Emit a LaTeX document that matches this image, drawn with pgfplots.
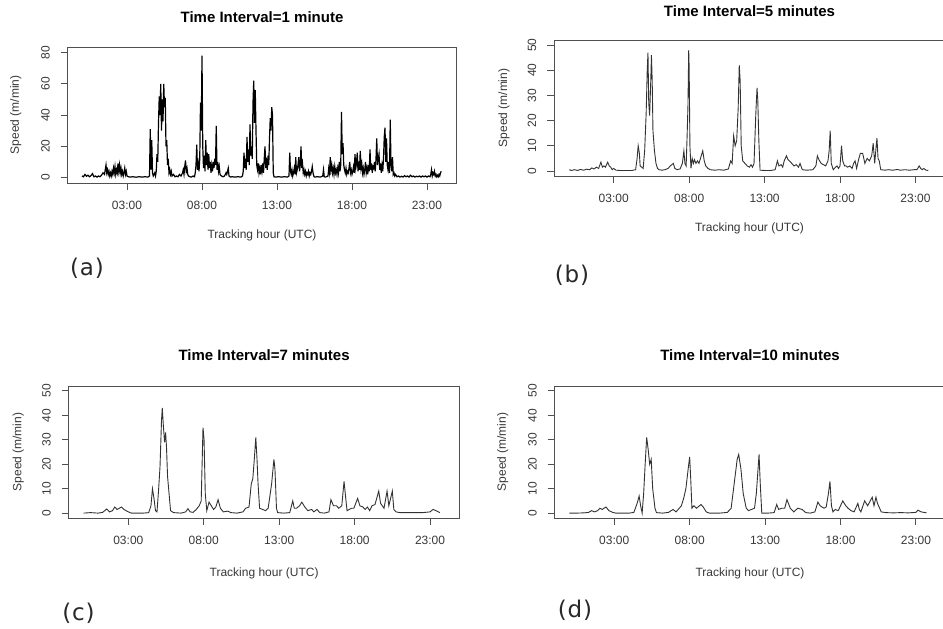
\documentclass[border=0pt]{standalone}
\usepackage{fontspec}
\setmainfont{Liberation Sans}
\newfontfamily\dejavu[LetterSpace=4]{DejaVu Sans}
\usepackage{pgfplots}
\pgfplotsset{compat=1.18}
\definecolor{axcol}{RGB}{80,80,80}
\definecolor{labcol}{RGB}{55,55,55}
\definecolor{lncol}{RGB}{50,50,50}
\pgfplotsset{
  rpanel/.style={
    scale only axis,
    width=391pt,
    xmin=-0.96, xmax=24.96,
    xtick={3,8,13,18,23},
    xticklabels={03:00,08:00,13:00,18:00,23:00},
    tick align=outside,
    xtick pos=left, ytick pos=left,
    major tick length=7pt,
    axis line style={draw=axcol, line width=0.9pt},
    tick style={draw=axcol, line width=0.9pt},
    tick label style={font=\fontsize{12}{14}\selectfont, text=labcol},
    xticklabel style={anchor=center},
    yticklabel style={rotate=90, anchor=center},
    xticklabel shift=15pt, yticklabel shift=15pt,
    /pgf/number format/assume math mode=true,
    title style={font=\fontsize{15}{18}\selectfont\bfseries, anchor=center},
    label style={font=\fontsize{12}{14}\selectfont, text=labcol},
    xlabel={Tracking hour (UTC)},
    ylabel={Speed (m/min)},
    xlabel style={anchor=center},
    ylabel style={anchor=center},
    scaled y ticks=false,
  },
}
\begin{document}
\begin{tikzpicture}
\useasboundingbox (0,0) rectangle (943pt,629pt);
% (a)
\begin{axis}[rpanel, at={(67.6pt,446pt)}, anchor=south west,
  width=388.8pt, height=136pt, ymin=-3.5, ymax=83.6, ytick={0,20,40,60,80},
  title={Time Interval=1 minute},
  title style={at={(axis description cs:0.5,1.176)}},
  xlabel style={at={(axis description cs:0.5,-0.382)}},
  ylabel style={at={(axis description cs:-0.133,0.5)}}]
\addplot[black, line width=1.2pt] coordinates {
(0.00,1)(0.10,0.5)(0.20,2)(0.30,0.8)(0.40,1.5)(0.50,0.5)(0.60,1.2)(0.70,2.5)(0.80,0.5)(0.90,1)
(1.00,0.3)(1.10,1)(1.20,0.5)(1.30,1.5)(1.40,3)(1.50,2)(1.55,5)(1.60,8)(1.65,3)(1.70,5)
(1.75,2)(1.80,4)(1.85,1)(1.90,3)(1.95,1)(2.00,4)(2.05,2)(2.10,6)(2.15,3)(2.20,7)
(2.25,2)(2.30,5)(2.35,3)(2.40,9)(2.45,4)(2.50,8)(2.55,3)(2.60,6)(2.65,2)(2.70,4)
(2.75,1)(2.80,3)(2.85,6)(2.90,2)(2.95,4)(3.00,1)(3.10,0.5)(3.20,0.3)(3.40,0.5)(3.60,0.2)
(3.80,0.5)(4.00,0.3)(4.20,0.5)(4.40,0.3)(4.50,1)(4.55,31)(4.60,5)(4.65,24)(4.70,3)(4.75,1)
(4.80,2)(4.85,3)(4.90,1)(4.95,4)(5.00,15)(5.05,10)(5.10,35)(5.15,52)(5.20,40)(5.25,60)
(5.30,30)(5.35,50)(5.40,36)(5.45,60)(5.50,45)(5.55,51)(5.60,20)(5.65,24)(5.70,8)(5.75,12)
(5.80,3)(5.85,5)(5.90,2)(5.95,4)(6.00,1)(6.10,2)(6.20,0.5)(6.30,1)(6.40,0.5)(6.50,2)
(6.60,1)(6.70,3)(6.75,5)(6.80,2)(6.85,7)(6.90,11)(6.95,4)(7.00,6)(7.05,2)(7.10,1)
(7.20,0.5)(7.30,0.3)(7.40,1)(7.50,0.5)(7.55,3)(7.60,8)(7.65,21)(7.70,5)(7.75,9)(7.80,4)
(7.85,12)(7.90,48)(7.95,30)(8.00,78)(8.05,20)(8.10,6)(8.15,14)(8.20,4)(8.25,24)(8.30,8)
(8.35,16)(8.40,5)(8.45,15)(8.50,6)(8.55,10)(8.60,3)(8.65,8)(8.70,4)(8.75,10)(8.80,6)
(8.85,12)(8.90,8)(8.95,33)(9.00,5)(9.05,10)(9.10,4)(9.15,7)(9.20,2)(9.30,1)(9.40,0.5)
(9.50,1)(9.60,3)(9.65,2)(9.75,6)(9.80,1)(9.90,0.3)(10.0,0.5)(10.2,0.3)(10.4,0.5)(10.6,0.3)
(10.70,1)(10.75,4)(10.80,16)(10.85,6)(10.90,12)(10.95,5)(11.00,26)(11.05,10)(11.10,18)(11.15,8)
(11.20,34)(11.25,14)(11.30,20)(11.35,12)(11.40,48)(11.45,62)(11.50,35)(11.55,56)(11.60,30)(11.65,8)
(11.70,5)(11.75,9)(11.80,3)(11.85,6)(11.90,2)(11.95,8)(12.00,4)(12.05,9)(12.10,3)(12.15,12)
(12.20,20)(12.25,6)(12.30,10)(12.35,5)(12.40,14)(12.45,8)(12.50,25)(12.55,38)(12.60,30)(12.65,45)
(12.70,40)(12.75,3)(12.80,0.5)(12.90,0.3)(13.10,0.5)(13.30,0.3)(13.50,0.5)(13.70,0.3)(13.80,1)(13.85,16)
(13.90,4)(13.95,2)(14.00,5)(14.05,1)(14.10,3)(14.15,6)(14.20,2)(14.25,13)(14.30,3)(14.35,5)
(14.40,8)(14.45,13)(14.50,4)(14.55,8)(14.60,20)(14.65,6)(14.70,9)(14.75,3)(14.80,5)(14.85,2)
(14.90,4)(14.95,1)(15.00,3)(15.05,2)(15.10,4)(15.15,1)(15.20,3)(15.25,2)(15.30,4)(15.35,7)
(15.40,3)(15.45,1)(15.50,0.3)(15.70,0.5)(15.90,0.3)(16.05,1)(16.10,5)(16.15,0.5)(16.25,0.3)(16.40,1)
(16.45,6)(16.50,3)(16.55,13)(16.60,5)(16.65,8)(16.70,3)(16.75,6)(16.80,2)(16.85,7)(16.90,3)
(16.95,5)(17.00,2)(17.05,6)(17.10,3)(17.15,10)(17.20,4)(17.25,8)(17.30,42)(17.35,15)(17.40,22)
(17.45,8)(17.50,5)(17.55,3)(17.60,6)(17.65,2)(17.70,4)(17.75,3)(17.80,6)(17.85,10)(17.90,3)
(17.95,5)(18.00,2)(18.05,4)(18.10,7)(18.15,3)(18.20,15)(18.25,6)(18.30,9)(18.35,16)(18.40,4)
(18.45,8)(18.50,5)(18.55,17)(18.60,6)(18.65,9)(18.70,3)(18.75,6)(18.80,2)(18.85,5)(18.90,10)
(18.95,3)(19.00,6)(19.05,2)(19.10,8)(19.15,4)(19.20,18)(19.25,5)(19.30,9)(19.35,3)(19.40,7)
(19.45,6)(19.50,10)(19.55,4)(19.60,12)(19.65,25)(19.70,8)(19.75,12)(19.80,15)(19.85,5)(19.90,9)
(19.95,3)(20.00,8)(20.05,4)(20.10,12)(20.15,26)(20.20,32)(20.25,10)(20.30,25)(20.35,8)(20.40,5)
(20.45,10)(20.50,3)(20.55,37)(20.60,8)(20.65,4)(20.70,13)(20.75,2)(20.80,3)(20.85,1)(20.90,2)
(21.00,0.5)(21.10,1)(21.20,0.3)(21.30,0.8)(21.40,0.3)(21.50,1.2)(21.60,0.5)(21.70,1)(21.80,0.3)(21.90,1.5)
(22.00,0.5)(22.10,1)(22.20,0.3)(22.30,0.8)(22.40,0.5)(22.50,1)(22.60,0.3)(22.70,1)(22.80,0.5)(22.90,1)
(23.00,0.3)(23.10,1)(23.20,0.5)(23.25,2)(23.30,5)(23.35,1)(23.40,3)(23.45,2)(23.50,4)(23.55,1)
(23.60,2)(23.65,0.5)(23.70,1.5)(23.75,0.5)(23.80,2)(23.85,1)(23.90,3)(23.95,4)
};
\end{axis}
% (b)
\begin{axis}[rpanel, at={(554pt,453pt)}, anchor=south west,
  width=391pt, height=136pt, ymin=-2, ymax=52, ytick={0,10,20,30,40,50},
  title={Time Interval=5 minutes},
  title style={at={(axis description cs:0.5,1.169)}},
  xlabel style={at={(axis description cs:0.5,-0.382)}},
  ylabel style={at={(axis description cs:-0.128,0.5)}}]
\addplot[lncol, line width=0.9pt] coordinates {
(0.05,0.5)(0.2,0.2)(0.4,0.5)(0.6,0.2)(0.8,0.6)(1.0,0.3)(1.2,0.7)(1.4,0.5)(1.55,1.2)(1.7,0.8)
(1.85,1.5)(2.0,1)(2.15,3.5)(2.25,1.5)(2.35,2)(2.45,1.5)(2.6,3.5)(2.7,2)(2.8,1.5)(2.9,0.5)
(3.0,1)(3.15,0.3)(3.4,0.2)(3.8,0.2)(4.2,0.2)(4.45,0.5)(4.55,5)(4.62,10)(4.7,7)(4.75,2)
(4.85,1.5)(4.95,1)(5.05,8)(5.15,23)(5.22,40)(5.27,47)(5.32,27)(5.38,22)(5.45,35)(5.5,46)
(5.55,36)(5.6,16)(5.7,8)(5.8,3)(5.9,1)(6.0,0.5)(6.2,0.3)(6.4,0.5)(6.6,1)(6.75,2)
(6.95,3)(7.05,1)(7.2,0.5)(7.4,0.8)(7.55,3)(7.65,8)(7.72,3)(7.8,2)(7.87,15)(7.92,26)
(7.97,48)(8.0,41)(8.05,10)(8.12,1)(8.2,5)(8.28,3)(8.35,4.5)(8.45,3)(8.55,4)(8.65,3)
(8.8,6)(8.9,8)(9.0,4)(9.1,2)(9.25,1)(9.4,0.5)(9.7,0.3)(10.0,0.5)(10.3,0.3)(10.6,0.8)
(10.75,4)(10.85,3)(10.95,14)(11.05,10)(11.15,12)(11.25,25)(11.32,42)(11.38,36)(11.45,10)(11.55,4)
(11.7,3)(11.85,2)(12.0,1.5)(12.1,2.5)(12.2,1.5)(12.3,3)(12.42,23)(12.5,33)(12.55,28)(12.62,12)
(12.7,0.3)(13.0,0.2)(13.4,0.2)(13.7,0.5)(13.85,4)(13.95,2)(14.1,2.5)(14.2,1.5)(14.3,4)(14.45,6)
(14.55,4.5)(14.65,4)(14.8,3)(14.95,2)(15.1,2.5)(15.25,1.5)(15.35,3)(15.5,0.5)(15.8,0.3)(16.2,0.5)
(16.4,2)(16.5,6)(16.6,4.5)(16.75,3)(16.9,2.5)(17.05,2)(17.2,4)(17.28,8)(17.35,16)(17.42,3)
(17.55,0.5)(17.7,1.5)(17.8,2)(17.9,1)(18.0,2)(18.1,10)(18.18,4)(18.3,2)(18.4,2)(18.5,1.5)
(18.65,2)(18.8,1)(18.9,3)(19.0,4)(19.1,1)(19.25,5)(19.35,7)(19.5,7)(19.65,3)(19.8,5)
(19.95,4)(20.1,6)(20.2,11)(20.3,3)(20.4,10)(20.45,13)(20.52,5)(20.6,4)(20.7,0.5)(21.0,0.3)
(21.2,0.5)(21.5,0.3)(21.8,0.6)(22.0,0.3)(22.3,0.5)(22.6,0.3)(22.9,0.5)(23.1,0.5)(23.25,2)(23.35,1)
(23.45,0.5)(23.55,1)(23.7,0.3)(23.85,0.2)
};
\end{axis}
% (c)
\begin{axis}[rpanel, at={(68.6pt,111pt)}, anchor=south west,
  width=391pt, height=132pt, ymin=-2, ymax=52, ytick={0,10,20,30,40,50},
  title={Time Interval=7 minutes},
  title style={at={(axis description cs:0.5,1.189)}},
  xlabel style={at={(axis description cs:0.5,-0.417)}},
  ylabel style={at={(axis description cs:-0.129,0.5)}}]
\addplot[lncol, line width=0.9pt] coordinates {
(0.03,0)(0.5,0.2)(1.0,0)(1.3,0.3)(1.57,1.7)(1.75,0.5)(1.95,1)(2.1,2.5)(2.25,1.5)(2.4,2)
(2.55,2.5)(2.7,1.5)(2.85,1)(3.0,0.5)(3.2,0)(3.6,0)(4.0,0)(4.35,0.2)(4.5,3)(4.6,10)
(4.7,6)(4.8,1)(4.9,0.5)(5.0,9)(5.1,19)(5.2,38)(5.25,43)(5.32,36)(5.4,29)(5.47,33)
(5.53,27)(5.6,15)(5.7,8)(5.8,1)(6.0,0.2)(6.5,0)(6.8,0.5)(6.95,1.8)(7.1,0.5)(7.3,0.3)
(7.5,1.5)(7.7,3)(7.83,5)(7.95,35)(8.02,30)(8.1,8)(8.2,1)(8.35,4.5)(8.5,3)(8.65,1.5)
(8.8,2.5)(8.95,5.5)(9.1,2)(9.3,0.5)(9.6,0.8)(9.8,0.2)(10.2,0)(10.6,0.5)(10.78,2)(11.0,2.5)
(11.15,12)(11.25,14)(11.35,22)(11.45,31)(11.53,22)(11.6,12)(11.7,2)(11.9,1.5)(12.1,1)(12.27,2)
(12.5,12)(12.65,22)(12.72,18)(12.82,2)(12.9,0.2)(13.3,0)(13.7,0.2)(13.9,5)(14.0,2)(14.15,2)
(14.35,3)(14.5,4.5)(14.7,2.5)(14.9,1)(15.15,1.5)(15.3,0.5)(15.5,1.5)(15.7,0.2)(16.0,0)(16.3,0.5)
(16.43,5.5)(16.6,3)(16.8,3)(16.95,2)(17.15,3)(17.3,13)(17.43,5)(17.5,1)(17.8,2)(17.95,2)
(18.2,6)(18.35,3)(18.55,2.5)(18.7,1.5)(18.85,2.5)(19.0,1)(19.15,3)(19.35,3.5)(19.6,9)(19.72,4)
(19.95,2)(20.15,9)(20.27,3)(20.5,9)(20.6,1.5)(20.75,0.5)(21.0,0.2)(21.5,0.2)(22.0,0.2)(22.5,0.2)
(23.0,0.5)(23.2,1.5)(23.4,1)(23.65,0.2)
};
\end{axis}
% (d)
\begin{axis}[rpanel, at={(554.5pt,111pt)}, anchor=south west,
  width=391pt, height=132pt, ymin=-2, ymax=52, ytick={0,10,20,30,40,50},
  title={Time Interval=10 minutes},
  title style={at={(axis description cs:0.5,1.189)}},
  xlabel style={at={(axis description cs:0.5,-0.417)}},
  ylabel style={at={(axis description cs:-0.132,0.5)}}]
\addplot[lncol, line width=0.9pt] coordinates {
(0.03,0)(0.5,0)(1.0,0.1)(1.3,0.3)(1.5,1)(1.7,0.5)(1.9,1)(2.05,2)(2.2,1.5)(2.45,2.5)
(2.65,1)(2.9,0.3)(3.1,0)(3.6,0)(4.0,0)(4.3,0.3)(4.52,4)(4.65,7)(4.75,3)(4.85,0)
(4.95,8)(5.05,20)(5.15,31)(5.25,26)(5.35,20)(5.45,22)(5.55,10)(5.7,2)(5.8,0.2)(6.2,0)
(6.6,0.3)(6.9,1.5)(7.1,0.5)(7.45,3)(7.6,6)(7.75,10)(7.9,18)(8.0,23)(8.07,14)(8.15,2)
(8.28,3)(8.45,2)(8.75,3.5)(8.9,2.5)(9.1,0.5)(9.3,0)(10.0,0)(10.5,0.3)(10.75,2)(10.97,13)
(11.15,22)(11.25,24)(11.4,18)(11.55,8)(11.75,2)(11.9,1)(12.1,1.5)(12.3,2)(12.42,8)(12.6,24)
(12.68,12)(12.78,0)(13.2,0)(13.6,0.2)(13.77,3.5)(13.9,1.5)(14.1,2)(14.3,2)(14.45,5.5)(14.67,2)
(14.9,0.5)(15.17,2)(15.45,1.5)(15.7,0.2)(16.0,0)(16.3,0.5)(16.5,4.5)(16.65,3)(16.9,2)(17.05,2.5)
(17.2,8)(17.3,13)(17.4,3)(17.5,0.5)(17.65,1.5)(17.85,1)(18.15,5)(18.35,3)(18.5,2)(18.7,1)
(18.9,0.5)(19.15,4)(19.25,1.5)(19.35,0.5)(19.6,5)(19.8,3)(20.1,6.5)(20.22,3)(20.35,6.5)(20.45,4)
(20.7,0.5)(21.0,0.2)(21.5,0.1)(22.0,0.2)(22.5,0.1)(23.0,0.3)(23.13,1.2)(23.35,0.5)(23.7,0.1)
};
\end{axis}
% panel letters
\node[font=\dejavu\fontsize{23}{26}\selectfont, text={rgb,255:red,40;green,40;blue,40}] at (87pt,361pt) {(a)};
\node[font=\dejavu\fontsize{23}{26}\selectfont, text={rgb,255:red,40;green,40;blue,40}] at (572pt,354pt) {(b)};
\node[font=\dejavu\fontsize{23}{26}\selectfont, text={rgb,255:red,40;green,40;blue,40}] at (78.5pt,16pt) {(c)};
\node[font=\dejavu\fontsize{23}{26}\selectfont, text={rgb,255:red,40;green,40;blue,40}] at (575pt,19pt) {(d)};
\end{tikzpicture}
\end{document}
